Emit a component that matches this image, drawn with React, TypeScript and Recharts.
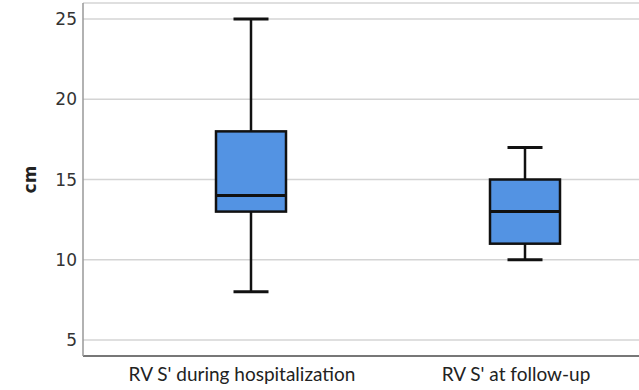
import { ComposedChart, Bar, XAxis, YAxis, CartesianGrid } from "recharts";

const groups = ["RV S' during hospitalization", "RV S' at follow-up"];
const mins = [8, 10];
const q1s = [13, 11];
const medians = [14, 13];
const q3s = [18, 15];
const maxs = [25, 17];
const yTicks = [5, 10, 15, 20, 25];

const data = groups.map((name, i) => ({
  name,
  range: [mins[i], maxs[i]],
  min: mins[i],
  q1: q1s[i],
  median: medians[i],
  q3: q3s[i],
  max: maxs[i],
}));

const BoxShape = (props: any) => {
  const { x, y, width, height, payload } = props;
  const top = Math.min(y, y + height);
  const h = Math.abs(height);
  const span = payload.max - payload.min;
  const py = (v: number) => top + (h * (payload.max - v)) / span;
  const cx = x + width / 2;
  const cap = width / 2;
  return (
    <g>
      <line x1={cx} x2={cx} y1={py(payload.max)} y2={py(payload.q3)} stroke="#111" strokeWidth={2.5} />
      <line x1={cx} x2={cx} y1={py(payload.q1)} y2={py(payload.min)} stroke="#111" strokeWidth={2.5} />
      <line x1={cx - cap / 2} x2={cx + cap / 2} y1={py(payload.max)} y2={py(payload.max)} stroke="#111" strokeWidth={3} />
      <line x1={cx - cap / 2} x2={cx + cap / 2} y1={py(payload.min)} y2={py(payload.min)} stroke="#111" strokeWidth={3} />
      <rect
        x={x}
        y={py(payload.q3)}
        width={width}
        height={py(payload.q1) - py(payload.q3)}
        fill="#5393e3"
        stroke="#111"
        strokeWidth={2.5}
      />
      <line x1={x} x2={x + width} y1={py(payload.median)} y2={py(payload.median)} stroke="#111" strokeWidth={3} />
    </g>
  );
};

export default function App() {
  return (
    <div style={{ position: "fixed", left: 0, top: 0, width: 639, height: 390, overflow: "hidden", background: "#fff" }}>
      <ComposedChart width={662} height={390} data={data} margin={{ top: 3, right: 0, bottom: 0, left: 0 }}>
        <CartesianGrid vertical={false} stroke="#d4d4d4" strokeWidth={1.5} />
        <XAxis
          dataKey="name"
          height={34}
          padding={{ left: 31, right: 0 }}
          tickLine={false}
          axisLine={{ stroke: "#555", strokeWidth: 1.5 }}
          tickMargin={6}
          tick={{ fill: "#222", fontSize: 19, fontFamily: "Lato", dx: -9 }}
          interval={0}
        />
        <YAxis
          type="number"
          domain={[4, 26]}
          ticks={yTicks}
          width={83}
          tickLine={false}
          tickSize={4}
          tickMargin={2}
          axisLine={{ stroke: "#999", strokeWidth: 1.5 }}
          tick={{ fill: "#333", fontSize: 17, fontFamily: "DejaVu Sans" }}
          label={{
            value: "cm",
            angle: -90,
            position: "insideLeft",
            offset: 30,
            style: { textAnchor: "middle", fill: "#222", fontSize: 17, fontWeight: "bold", fontFamily: "DejaVu Sans" },
          }}
        />
        <Bar dataKey="range" barSize={70} shape={<BoxShape />} isAnimationActive={false} />
      </ComposedChart>
    </div>
  );
}
